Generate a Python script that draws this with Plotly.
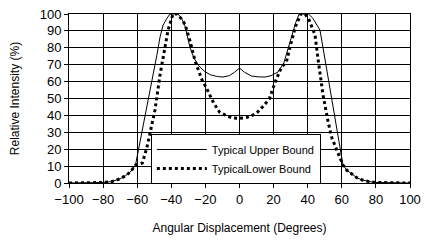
import plotly.graph_objects as go

# Typical Upper Bound (solid)
upper_x = [-100, -90, -80, -75, -70, -67, -64, -61, -56.6, -52, -48.4, -46.6, -44.8, -42.5, -40.8, -38, -36, -34, -32, -29, -26.5, -24, -20.5, -17, -13, -9.7, -6, -3, 0, 3, 7, 11, 15, 18.5, 22.6, 26, 28.5, 31, 33, 35, 38, 40.5, 43, 45, 47.2, 50, 54, 57.5, 60.7, 63, 66, 69, 72, 76, 80, 90, 100]
upper_y = [0, 0, 0.3, 0.8, 2.5, 4.2, 6.5, 10.6, 33, 57, 76, 86.4, 93.5, 97.5, 100, 100, 100, 97.5, 93, 80, 73.5, 69.5, 66, 64, 63, 62.7, 63.5, 65.5, 68, 65.5, 63.3, 62.8, 62.7, 63.5, 65.7, 71, 80, 89, 95, 100, 100, 100, 97.5, 94, 90.5, 74, 50, 30, 10.6, 7.5, 5, 3, 1.8, 0.8, 0.3, 0, 0]

# Typical Lower Bound (dotted)
lower_x = [-100, -90, -80, -75, -70, -67, -64, -61, -57, -54.3, -52, -49.6, -46.6, -43.7, -41.9, -39, -36.5, -34, -32, -29, -26, -22, -19.3, -15, -11.7, -8, -4.6, 0, 4, 7.5, 10.6, 14, 17.6, 19.3, 21, 24, 27.8, 30, 33, 36, 38.5, 41, 44.3, 46, 49, 52, 54.2, 57.8, 60.7, 63, 66, 69, 72, 76, 80, 90, 100]
lower_y = [0, 0, 0.3, 0.8, 2.5, 4.2, 6.5, 10.6, 11.8, 21, 31, 43, 64, 79, 90.5, 100, 100, 97, 94, 84, 72, 61, 56, 47, 42, 40, 38.5, 38.3, 38.7, 40, 42, 45.5, 50, 55, 60, 67, 72.8, 82, 93, 100, 100, 96, 87.6, 73.8, 52, 36, 26.6, 17.7, 10.6, 7.5, 5, 3, 1.8, 0.8, 0.3, 0, 0]

x_ticks = [-100, -80, -60, -40, -20, 0, 20, 40, 60, 80, 100]
y_ticks = [0, 10, 20, 30, 40, 50, 60, 70, 80, 90, 100]

fig = go.Figure()
fig.add_trace(go.Scatter(x=upper_x, y=upper_y, mode="lines", name="Typical Upper Bound",
                         line=dict(color="black", width=1)))
fig.add_trace(go.Scatter(x=lower_x, y=lower_y, mode="lines", name="TypicalLower Bound",
                         line=dict(color="black", width=3, dash="3px,3px")))

font_family = "Liberation Sans, Arial, sans-serif"
axis_common = dict(showgrid=True, gridcolor="black", gridwidth=1, showline=True,
                   linecolor="black", linewidth=1, mirror=True, ticks="outside",
                   ticklen=4, tickcolor="black", zeroline=False, automargin=False,
                   ticklabeloverflow="allow",
                   tickfont=dict(family=font_family, size=13, color="black"))

fig.update_layout(
    width=424, height=242,
    margin=dict(l=69, r=14, t=14, b=59, autoexpand=False),
    paper_bgcolor="white", plot_bgcolor="white",
    font=dict(family=font_family, size=12, color="black"),
    showlegend=True,
    legend=dict(x=0.24, y=0.29, xanchor="left", yanchor="top",
                bgcolor="white", bordercolor="black", borderwidth=1,
                font=dict(family=font_family, size=11, color="black"),
                tracegroupgap=0, itemwidth=50),
    xaxis=dict(range=[-100, 100], tickvals=x_ticks,
               title=dict(text="Angular Displacement (Degrees)", font=dict(size=12), standoff=18),
               **axis_common),
    yaxis=dict(range=[0, 100], tickvals=y_ticks,
               title=dict(text="Relative Intensity (%)", font=dict(size=12), standoff=17),
               **axis_common),
)

fig.write_html(
    "out.html",
    config={"displayModeBar": False},
    post_script="document.body.style.margin='0';document.body.style.overflow='hidden';",
)
